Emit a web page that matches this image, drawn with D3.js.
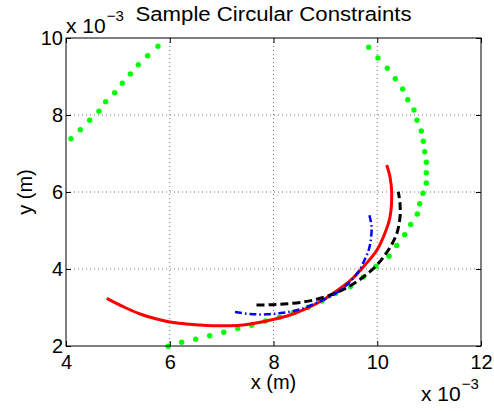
<!DOCTYPE html>
<html>
<head>
<meta charset="utf-8">
<script src="https://cdn.jsdelivr.net/npm/d3@7"></script>
<style>
  body { margin: 0; background: #fff; }
  svg { display: block; font-family: "Liberation Sans", Arial, sans-serif; }
</style>
</head>
<body>
<svg width="494" height="411"></svg>
<script>
// values in units of 1e-3 m
const xTicks = [4, 6, 8, 10, 12];
const yTicks = [2, 4, 6, 8, 10];

// green constraint dots
const greenX = [4.096, 4.276, 4.457, 4.636, 4.765, 4.939, 5.085, 5.240, 5.394, 5.575, 5.773,
  9.835, 10.014, 10.194, 10.348, 10.491, 10.587, 10.708, 10.766, 10.849, 10.888, 10.915, 10.946,
  10.946, 10.946, 10.882, 10.818, 10.772, 10.645, 10.529, 10.375, 10.227, 9.976, 9.731, 9.484,
  9.195, 8.935, 8.671, 8.382, 8.116, 7.846, 7.580, 7.310, 7.040, 6.770, 6.500, 6.230, 5.972];
const greenY = [7.385, 7.618, 7.862, 8.096, 8.345, 8.579, 8.823, 9.065, 9.306, 9.540, 9.784,
  9.758, 9.481, 9.213, 8.943, 8.675, 8.397, 8.130, 7.862, 7.584, 7.317, 7.047, 6.771,
  6.501, 6.234, 5.966, 5.696, 5.429, 5.156, 4.888, 4.610, 4.332, 4.065, 3.792, 3.545,
  3.364, 3.169, 3.005, 2.865, 2.745, 2.649, 2.538, 2.455, 2.356, 2.268, 2.174, 2.096, 1.992];

// red solid path
const redX = [4.785, 5.105, 5.427, 5.748, 6.063, 6.390, 6.712, 7.032, 7.354, 7.663, 7.990, 8.318,
  8.640, 8.954, 9.282, 9.533, 9.764, 9.995, 10.149, 10.246, 10.279, 10.246, 10.182];
const redY = [3.239, 3.021, 2.831, 2.701, 2.610, 2.564, 2.532, 2.525, 2.538, 2.597, 2.688, 2.805,
  2.979, 3.195, 3.494, 3.766, 4.104, 4.494, 4.935, 5.351, 5.974, 6.390, 6.701];

// black dashed path
const blackX = [7.672, 7.933, 8.189, 8.511, 8.833, 9.153, 9.436, 9.731, 9.976, 10.149, 10.284,
  10.380, 10.439, 10.439, 10.406];
const blackY = [3.065, 3.070, 3.091, 3.130, 3.213, 3.351, 3.532, 3.792, 4.078, 4.364, 4.649,
  4.935, 5.351, 5.688, 6.008];

// blue dash-dot path
const blueX = [7.258, 7.547, 7.869, 8.189, 8.511, 8.833, 9.153, 9.442, 9.639, 9.764, 9.841,
  9.880, 9.889, 9.841];
const blueY = [2.883, 2.831, 2.823, 2.865, 2.953, 3.125, 3.325, 3.629, 3.935, 4.260, 4.519,
  4.805, 5.117, 5.442];

const MARGIN = { left: 66, top: 38 };
const W = 415, H = 308;

const x = d3.scaleLinear().domain([4, 12]).range([0, W]);
const y = d3.scaleLinear().domain([2, 10]).range([H, 0]);

const svg = d3.select('svg');
const g = svg.append('g').attr('transform', `translate(${MARGIN.left},${MARGIN.top})`);

// dotted grid
g.selectAll('.gx').data(xTicks.slice(1, -1)).enter().append('line')
  .attr('x1', d => x(d)).attr('x2', d => x(d)).attr('y1', 0).attr('y2', H)
  .attr('stroke', '#555').attr('stroke-width', 0.8).attr('stroke-dasharray', '1,3');
g.selectAll('.gy').data(yTicks.slice(1, -1)).enter().append('line')
  .attr('y1', d => y(d)).attr('y2', d => y(d)).attr('x1', 0).attr('x2', W)
  .attr('stroke', '#555').attr('stroke-width', 0.8).attr('stroke-dasharray', '1,3');

const pts = (xs, ys) => xs.map((v, i) => [v, ys[i]]);
const line = d3.line().x(d => x(d[0])).y(d => y(d[1])).curve(d3.curveCatmullRom);

g.selectAll('.dot').data(pts(greenX, greenY)).enter().append('circle')
  .attr('cx', d => x(d[0])).attr('cy', d => y(d[1])).attr('r', 2.7)
  .attr('fill', '#00ff00');

g.append('path').datum(pts(redX, redY)).attr('d', line)
  .attr('fill', 'none').attr('stroke', '#ff0000').attr('stroke-width', 3);
g.append('path').datum(pts(blackX, blackY)).attr('d', line)
  .attr('fill', 'none').attr('stroke', '#000').attr('stroke-width', 3)
  .attr('stroke-dasharray', '8,4');
g.append('path').datum(pts(blueX, blueY)).attr('d', line)
  .attr('fill', 'none').attr('stroke', '#0000ff').attr('stroke-width', 2.5)
  .attr('stroke-dasharray', '7,3,1.5,3');

// axes box and inward ticks
g.append('rect').attr('width', W).attr('height', H)
  .attr('fill', 'none').attr('stroke', '#000').attr('stroke-width', 1);

g.append('g').attr('transform', `translate(0,${H})`)
  .call(d3.axisBottom(x).tickValues(xTicks).tickSize(-5).tickPadding(9).tickFormat(d3.format('d')))
  .call(a => a.select('.domain').remove())
  .call(a => a.selectAll('text').attr('font-size', 20).attr('fill', '#000')
    .attr('font-family', '"Liberation Sans", Arial, sans-serif'));
g.append('g').call(d3.axisTop(x).tickValues(xTicks).tickSize(-5).tickFormat(''))
  .call(a => a.select('.domain').remove());
g.append('g')
  .call(d3.axisLeft(y).tickValues(yTicks).tickSize(-5).tickPadding(3).tickFormat(d3.format('d')))
  .call(a => a.select('.domain').remove())
  .call(a => a.selectAll('text').attr('font-size', 20).attr('fill', '#000')
    .attr('font-family', '"Liberation Sans", Arial, sans-serif'));
g.append('g').attr('transform', `translate(${W},0)`)
  .call(d3.axisRight(y).tickValues(yTicks).tickSize(-5).tickFormat(''))
  .call(a => a.select('.domain').remove());

// title and labels
svg.append('text').attr('x', MARGIN.left + W / 2).attr('y', 21)
  .attr('text-anchor', 'middle').attr('font-size', 20)
  .attr('textLength', 276).attr('lengthAdjust', 'spacingAndGlyphs')
  .text('Sample Circular Constraints');
svg.append('text').attr('x', MARGIN.left + W / 2).attr('y', 389)
  .attr('text-anchor', 'middle').attr('font-size', 20).text('x (m)');
svg.append('text').attr('transform', `translate(32,${MARGIN.top + H / 2}) rotate(-90)`)
  .attr('text-anchor', 'middle').attr('font-size', 20).text('y (m)');

// exponent labels
const expo = (tx, ty) => {
  const t = svg.append('text').attr('x', tx).attr('y', ty).attr('font-size', 21);
  t.append('tspan').text('x 10');
  t.append('tspan').attr('dx', 1).attr('dy', -12).attr('font-size', 15).text('\u22123');
};
expo(66, 33);
expo(421, 401);
</script>
</body>
</html>
